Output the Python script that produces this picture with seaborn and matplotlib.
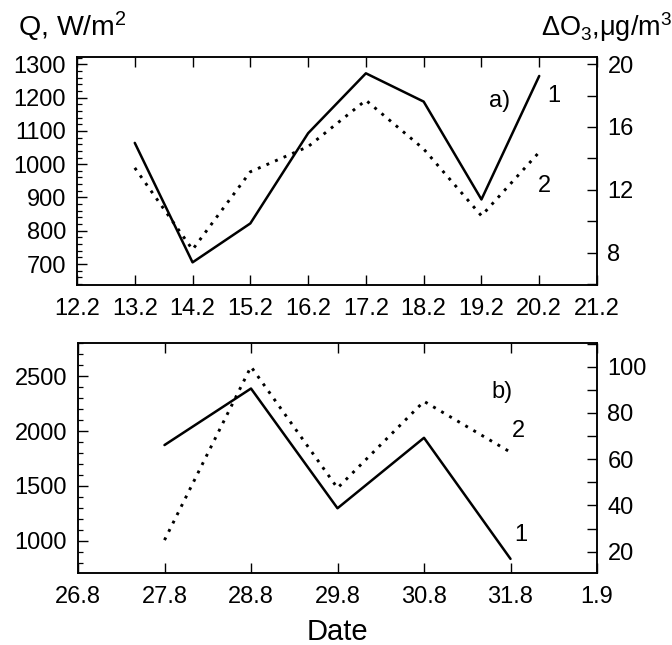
import matplotlib
matplotlib.use("Agg")
import matplotlib.pyplot as plt
from matplotlib.ticker import MultipleLocator
import numpy as np
import pandas as pd
import seaborn as sns

# ---- data ----
xlabels_a = ["12.2", "13.2", "14.2", "15.2", "16.2", "17.2", "18.2", "19.2", "20.2", "21.2"]
dates_a = ["13.2", "14.2", "15.2", "16.2", "17.2", "18.2", "19.2", "20.2"]
q_a = [1064, 705, 822, 1093, 1273, 1188, 894, 1265]
o3_a = [13.4, 8.2, 13.15, 14.75, 17.7, 14.6, 10.35, 14.4]

xlabels_b = ["26.8", "27.8", "28.8", "29.8", "30.8", "31.8", "1.9"]
dates_b = ["27.8", "28.8", "29.8", "30.8", "31.8"]
q_b = [1873, 2388, 1297, 1939, 836]
o3_b = [25, 100, 47.5, 85, 63]

sns.set_theme(style="ticks")
plt.rcParams["font.family"] = ["Liberation Sans", "DejaVu Sans"]
plt.rcParams["mathtext.fontset"] = "custom"
plt.rcParams["mathtext.rm"] = "Liberation Sans"
plt.rcParams["mathtext.it"] = "Liberation Sans:italic"
plt.rcParams["mathtext.bf"] = "Liberation Sans:bold"
plt.rcParams["text.color"] = "black"
plt.rcParams["xtick.color"] = "black"
plt.rcParams["ytick.color"] = "black"
plt.rcParams["xtick.labelcolor"] = "black"
plt.rcParams["ytick.labelcolor"] = "black"

FS = 17
fig = plt.figure(figsize=(6.72, 6.45), dpi=100)
fig.patch.set_facecolor("white")

DOT = (0, (1, 2.2))


def panel(rect, xlabels, dates, q, o3, qlim, olim, qmaj, qmin, omaj, omin, tag, tagpos, p1, p2):
    ax = fig.add_axes(rect)
    pos = {lab: i for i, lab in enumerate(xlabels)}
    df = pd.DataFrame({"x": [pos[d] for d in dates], "q": q, "o3": o3})
    sns.lineplot(data=df, x="x", y="q", ax=ax, color="black", lw=1.8, legend=False)
    ax2 = ax.twinx()
    sns.lineplot(data=df, x="x", y="o3", ax=ax2, color="black", lw=2.1,
                 linestyle=DOT, legend=False)
    ax.set_xlim(0, len(xlabels) - 1)
    ax.set_xticks(range(len(xlabels)))
    ax.set_xticklabels(xlabels)
    ax.set_ylim(*qlim)
    ax2.set_ylim(*olim)
    ax.yaxis.set_major_locator(MultipleLocator(qmaj))
    ax.yaxis.set_minor_locator(MultipleLocator(qmin))
    ax2.yaxis.set_major_locator(MultipleLocator(omaj))
    ax2.yaxis.set_minor_locator(MultipleLocator(omin))
    ax.set_xlabel("")
    ax.set_ylabel("")
    ax2.set_ylabel("")
    for a in (ax, ax2):
        for s in a.spines.values():
            s.set_visible(True)
            s.set_linewidth(1.1)
            s.set_color("black")
    ax.tick_params(axis="x", which="major", direction="in", top=True, bottom=True,
                   length=7, width=1.0, pad=9.5, labelsize=FS, colors="black")
    ax.tick_params(axis="y", which="major", direction="in", left=True, right=False,
                   length=7, width=1.0, pad=8, labelsize=FS, colors="black")
    ax.tick_params(axis="y", which="minor", direction="in", left=True, right=False,
                   length=3.5, width=0.9, colors="black")
    ax2.tick_params(axis="y", which="major", direction="in", right=True, left=False,
                    length=7, width=1.0, pad=7.5, labelsize=FS, colors="black")
    ax2.tick_params(axis="y", which="minor", direction="in", right=True, left=False,
                    length=7, width=1.0, colors="black")
    for txt, p in ((tag, tagpos), ("1", p1), ("2", p2)):
        ax.text(p[0], p[1], txt, transform=ax.transAxes, fontsize=FS,
                va="baseline", ha="left", color="black")
    ax.set_facecolor("white")
    return ax, ax2


panel([77 / 672, 1 - 285 / 645, 520 / 672, 228 / 645], xlabels_a, dates_a, q_a, o3_a,
      (637, 1322), (5.95, 20.45), 100, 20, 4, 2,
      "a)", (0.792, 0.781), (0.904, 0.803), (0.887, 0.408))
panel([78 / 672, 1 - 572.7 / 645, 519 / 672, 229.4 / 645], xlabels_b, dates_b, q_b, o3_b,
      (710, 2800), (10.9, 110.1), 500, 100, 20, 10,
      "b)", (0.796, 0.760), (0.840, 0.139), (0.836, 0.593))

fig.text(18 / 672, 1 - 36 / 645, "Q, W/m$^2$", fontsize=20.5, ha="left", va="baseline", color="black")
fig.text(672 / 672, 1 - 36 / 645, "ΔO$_3$,μg/m$^3$", fontsize=19.5, ha="right", va="baseline", color="black")
fig.text(337 / 672, 1 - 640 / 645, "Date", fontsize=21, ha="center", va="baseline", color="black")

fig.savefig("out.png", dpi=100, facecolor="white")
